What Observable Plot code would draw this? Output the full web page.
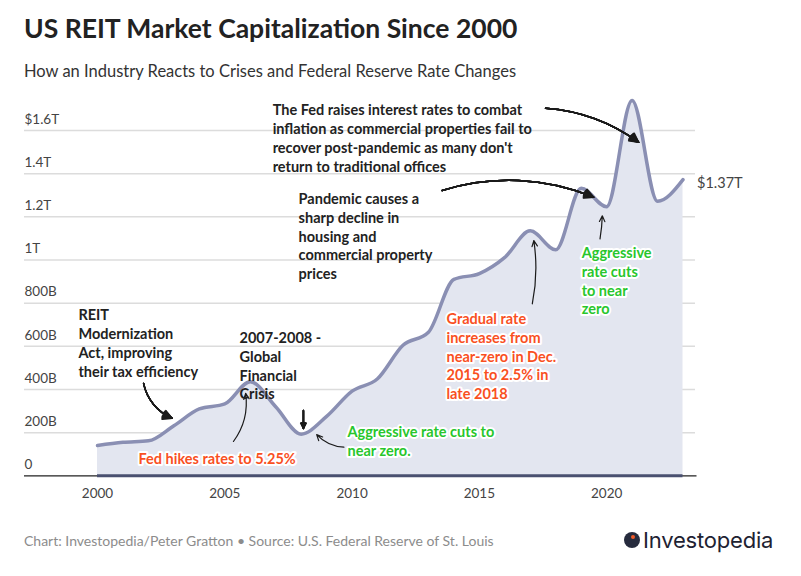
<!DOCTYPE html>
<html>
<head>
<meta charset="utf-8">
<script src="https://cdn.jsdelivr.net/npm/d3@7"></script>
<script src="https://cdn.jsdelivr.net/npm/@observablehq/plot@0.6"></script>
<style>
  html, body { margin: 0; padding: 0; background: #ffffff; }
  body { width: 801px; height: 576px; position: relative; overflow: hidden; font-family: Lato, "Noto Sans", sans-serif; }
  #title { position: absolute; left: 24px; top: 12px; font-size: 26.5px; font-weight: 700; color: #222222; white-space: nowrap; }
  #subtitle { position: absolute; left: 24px; top: 61px; font-size: 16.5px; color: #333333; white-space: nowrap; }
  #chart { position: absolute; left: 0; top: 88px; }
  #footer { position: absolute; left: 24px; top: 532px; font-size: 14px; color: #8c8c8c; white-space: nowrap; }
  #logo { position: absolute; left: 624px; top: 527px; display: flex; align-items: center; white-space: nowrap; }
  #logo .mark { width: 16px; height: 16px; border-radius: 50%; background: #262b3d; position: relative; margin-right: 3px; }
  #logo .mark::after { content: ""; position: absolute; left: 7px; top: 3px; width: 4px; height: 4px; border-radius: 50%; background: #f05a28; }
  #logo .word { font-family: Inter, "Open Sans", sans-serif; font-size: 22px; color: #1e2232; letter-spacing: -0.2px; }
</style>
</head>
<body>
<div id="title">US REIT Market Capitalization Since 2000</div>
<div id="subtitle">How an Industry Reacts to Crises and Federal Reserve Rate Changes</div>
<div id="chart"></div>
<div id="footer">Chart: Investopedia/Peter Gratton • Source: U.S. Federal Reserve of St. Louis</div>
<div id="logo"><div class="mark"></div><span class="word">Investopedia</span></div>
<script>
// ---- data (billions of US dollars) ----
const years = [2000, 2001, 2002, 2003, 2004, 2005, 2006, 2007, 2008, 2009, 2010, 2011,
               2012, 2013, 2014, 2015, 2016, 2017, 2018, 2019, 2020, 2021, 2022, 2023];
const marketCap = [140, 155, 162, 232, 310, 333, 436, 320, 193, 275, 392, 450,
                   605, 665, 910, 937, 1012, 1135, 1047, 1332, 1247, 1739, 1272, 1372];

const yTicks = [0, 200, 400, 600, 800, 1000, 1200, 1400, 1600];
const yTickLabels = ["0", "200B", "400B", "600B", "800B", "1T", "1.2T", "1.4T", "$1.6T"];
const xTicks = [2000, 2005, 2010, 2015, 2020];
const endLabel = "$1.37T";

// annotation text blocks (x = year, y = value at top of block)
const noteText = [
  "REIT\nModernization\nAct, improving\ntheir tax efficiency",
  "2007-2008 -\nGlobal\nFinancial\nCrisis",
  "Pandemic causes a\nsharp decline in\nhousing and\ncommercial property\nprices",
  "The Fed raises interest rates to combat\ninflation as commercial properties fail to\nrecover post-pandemic as many don't\nreturn to traditional offices",
  "Fed hikes rates to 5.25%",
  "Gradual rate\nincreases from\nnear-zero in Dec.\n2015 to 2.5% in\nlate 2018",
  "Aggressive rate cuts to\nnear zero.",
  "Aggressive\nrate cuts\nto near\nzero"
];
const noteYear = [1999.25, 2005.58, 2007.90, 2006.88, 2001.61, 2013.71, 2009.82, 2019.02];
const noteValue = [784, 678, 1322, 1734, 117, 766, 242, 1072];
const noteKind = ["dark", "dark", "dark", "dark", "red", "red", "green", "green"];

// arrows (from -> to, in year / value); solid = filled head
const arrowX1 = [2001.81, 2008.09, 2013.54, 2017.60, 2005.34, 2017.08, 2009.68, 2019.74];
const arrowY1 = [428, 303, 1322, 1703, 159, 797, 133, 1098];
const arrowX2 = [2002.94, 2008.09, 2019.49, 2021.26, 2005.82, 2017.14, 2008.61, 2019.83];
const arrowY2 = [266, 219, 1291, 1545, 382, 1090, 191, 1205];
const arrowBend = [-28, 0, 20, 16, -22, -10, 22, -4];
const arrowSolid = [true, true, true, true, false, false, false, false];

// ---- build ----
const series = years.map((year, i) => ({year, cap: marketCap[i]}));
const notes = noteText.map((text, i) => ({text, x: noteYear[i], y: noteValue[i], kind: noteKind[i]}));
const arrows = arrowX1.map((x1, i) => ({x1, y1: arrowY1[i], x2: arrowX2[i], y2: arrowY2[i],
  bend: arrowBend[i], solid: arrowSolid[i]}));
const last = series[series.length - 1];

const noteBase = {x: "x", y: "y", text: "text", textAnchor: "start", lineAnchor: "top",
                  lineHeight: 1.3, fontSize: 14.5, fontWeight: 700};

// solid heads: stack of chevrons with narrowing angles fills the wedge
const arrowMarks = arrows.flatMap(a => {
  const angles = a.solid ? [56, 48, 40, 32, 24, 16, 8] : [50];
  return angles.map(h => Plot.arrow([a], {x1: "x1", y1: "y1", x2: "x2", y2: "y2", bend: a.bend,
    headAngle: h, headLength: a.solid ? 11 : 8, stroke: "#1a1a1a", strokeWidth: a.solid ? 1.4 : 1.2}));
});

const chart = Plot.plot({
  width: 801,
  height: 420,
  marginLeft: 97,
  marginRight: 118.5,
  marginTop: 42,
  marginBottom: 32.7,
  x: {domain: [2000, 2023], axis: null},
  y: {domain: [0, 1600], axis: null},
  style: {fontFamily: "Lato, 'Noto Sans', sans-serif", overflow: "visible", background: "transparent"},
  marks: [
    Plot.ruleY(yTicks.slice(1), {stroke: "#dcdcdc", strokeWidth: 1.5, insetLeft: -73, insetRight: -12.5}),
    Plot.areaY(series, {x: "year", y: "cap", curve: "monotone-x", fill: "#e3e6f0"}),
    Plot.ruleY([0], {stroke: "#222222", strokeWidth: 1.2, insetLeft: -73, insetRight: -14}),
    Plot.ruleY([0], {x1: years[0], x2: years[years.length - 1], stroke: "#4a5070", strokeWidth: 3}),
    Plot.lineY(series, {x: "year", y: "cap", curve: "monotone-x", stroke: "#8a8fb3", strokeWidth: 3.5}),
    Plot.text(yTicks, {x: () => xTicks[0], y: d => d, text: (d, i) => yTickLabels[i],
      textAnchor: "start", dx: -73, dy: -11, fontSize: 13.5, fill: "#444444"}),
    Plot.text(xTicks, {x: d => d, y: () => 0, text: d => String(d), dy: 18, fontSize: 13.5, fill: "#444444"}),
    Plot.text([last], {x: "year", y: "cap", text: () => endLabel, textAnchor: "start", dx: 14, dy: 4,
      fontSize: 14.5, fill: "#444444"}),
    ...arrowMarks,
    Plot.text(notes.filter(d => d.kind === "dark"), {...noteBase, fill: "#222222"}),
    Plot.text(notes.filter(d => d.kind === "red"), {...noteBase, fill: "#f9501f", stroke: "white", strokeWidth: 4}),
    Plot.text(notes.filter(d => d.kind === "green"), {...noteBase, fill: "#28c62c", stroke: "white", strokeWidth: 4})
  ]
});
document.getElementById("chart").appendChild(chart);
</script>
</body>
</html>
